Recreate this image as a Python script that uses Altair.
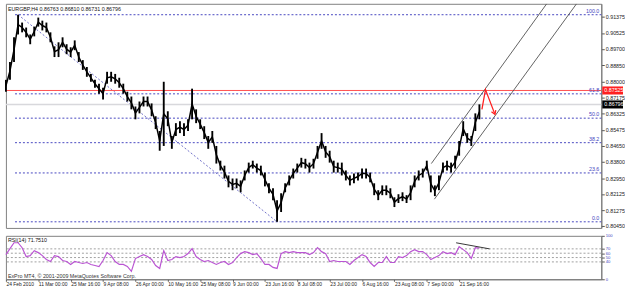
import altair as alt
import pandas as pd

# ---------------- data ----------------
header_text = "EURGBP,H4  0.86763 0.86810 0.86731 0.86796"
rsi_title = "RSI(14) 71.7510"
copyright_text = "ExPro MT4, \u00a9 2001-2009 MetaQuotes Software Corp."

bar_step = 8  # one column every 8 H4 bars

highs = [0.8808, 0.8901, 0.9030, 0.9148, 0.9107, 0.9081, 0.9045, 0.9086, 0.9133, 0.9117,
         0.9107, 0.9056, 0.8983, 0.9004, 0.9030, 0.8994, 0.8978, 0.9014, 0.8953, 0.8911,
         0.8875, 0.8839, 0.8808, 0.8788, 0.8767, 0.8850, 0.8850, 0.8839, 0.8819, 0.8788,
         0.8746, 0.8721, 0.8669, 0.8695, 0.8721, 0.8721, 0.8685, 0.8618, 0.8541, 0.8798,
         0.8644, 0.8515, 0.8582, 0.8592, 0.8582, 0.8602, 0.8762, 0.8654, 0.8602, 0.8566,
         0.8515, 0.8541, 0.8463, 0.8386, 0.8360, 0.8309, 0.8293, 0.8293, 0.8283, 0.8335,
         0.8376, 0.8386, 0.8371, 0.8360, 0.8324, 0.8268, 0.8242, 0.8180, 0.8216, 0.8268,
         0.8309, 0.8345, 0.8371, 0.8401, 0.8396, 0.8376, 0.8396, 0.8463, 0.8530, 0.8463,
         0.8438, 0.8386, 0.8376, 0.8376, 0.8335, 0.8309, 0.8319, 0.8324, 0.8345, 0.8345,
         0.8324, 0.8268, 0.8232, 0.8257, 0.8257, 0.8242, 0.8195, 0.8211, 0.8221, 0.8206,
         0.8257, 0.8309, 0.8335, 0.8345, 0.8386, 0.8309, 0.8257, 0.8309, 0.8376, 0.8386,
         0.8376, 0.8412, 0.8489, 0.8592, 0.8530, 0.8515, 0.8633, 0.8680]

lows = [0.8746, 0.8808, 0.8901, 0.9045, 0.9056, 0.9030, 0.8994, 0.9035, 0.9086, 0.9066,
        0.9056, 0.9004, 0.8927, 0.8927, 0.8978, 0.8942, 0.8927, 0.8963, 0.8901, 0.8860,
        0.8824, 0.8798, 0.8767, 0.8736, 0.8705, 0.8788, 0.8798, 0.8788, 0.8767, 0.8736,
        0.8695, 0.8654, 0.8602, 0.8633, 0.8669, 0.8669, 0.8618, 0.8551, 0.8438, 0.8463,
        0.8566, 0.8448, 0.8515, 0.8530, 0.8515, 0.8541, 0.8602, 0.8582, 0.8551, 0.8499,
        0.8448, 0.8479, 0.8371, 0.8335, 0.8293, 0.8247, 0.8232, 0.8242, 0.8221, 0.8283,
        0.8324, 0.8345, 0.8324, 0.8309, 0.8252, 0.8216, 0.8180, 0.8067, 0.8118, 0.8221,
        0.8257, 0.8293, 0.8324, 0.8350, 0.8345, 0.8324, 0.8345, 0.8396, 0.8448, 0.8401,
        0.8376, 0.8324, 0.8324, 0.8309, 0.8283, 0.8257, 0.8268, 0.8283, 0.8293, 0.8293,
        0.8273, 0.8206, 0.8180, 0.8206, 0.8206, 0.8190, 0.8144, 0.8165, 0.8175, 0.8165,
        0.8180, 0.8247, 0.8283, 0.8298, 0.8335, 0.8221, 0.8201, 0.8232, 0.8324, 0.8335,
        0.8324, 0.8345, 0.8412, 0.8515, 0.8479, 0.8463, 0.8541, 0.8602]

rsi_values = [56.8, 70.5, 84.1, 84.1, 72.7, 52.3, 54.5, 65.9, 61.4, 54.5,
              45.5, 40.9, 54.5, 52.3, 43.2, 40.9, 34.1, 40.9, 38.6, 36.4,
              38.6, 34.1, 31.8, 29.5, 43.2, 61.4, 54.5, 40.9, 34.1, 34.1,
              29.5, 18.2, 47.7, 52.3, 56.8, 52.3, 45.5, 31.8, 25.0, 65.9,
              43.2, 45.5, 52.3, 50.0, 52.3, 59.1, 70.5, 52.3, 45.5, 40.9,
              43.2, 38.6, 34.1, 38.6, 40.9, 34.1, 38.6, 50.0, 59.1, 63.6,
              61.4, 56.8, 59.1, 47.7, 34.1, 34.1, 27.3, 25.0, 59.1, 63.6,
              61.4, 63.6, 61.4, 61.4, 61.4, 56.8, 61.4, 72.7, 63.6, 59.1,
              40.9, 43.2, 40.9, 40.9, 40.9, 34.1, 43.2, 50.0, 56.8, 52.3,
              38.6, 29.5, 38.6, 38.6, 52.3, 38.6, 38.6, 52.3, 50.0, 54.5,
              63.6, 68.2, 63.6, 63.6, 56.8, 45.5, 50.0, 54.5, 63.6, 59.1,
              61.4, 56.8, 75.0, 68.2, 61.4, 47.7, 72.7, 71.75]

date_labels = ["24 Feb 2010", "11 Mar 00:00", "25 Mar 16:00", "9 Apr 08:00", "26 Apr 00:00",
               "10 May 16:00", "25 May 08:00", "9 Jun 00:00", "23 Jun 16:00", "8 Jul 08:00",
               "23 Jul 00:00", "6 Aug 16:00", "23 Aug 08:00", "7 Sep 00:00", "21 Sep 16:00"]
bars_per_label = 64

price_ticks = [0.91375, 0.90525, 0.89700, 0.88850, 0.88000, 0.87175, 0.86325,
               0.85475, 0.84650, 0.83800, 0.82950, 0.82125, 0.81275, 0.80450]

fib_names = ["100.0", "61.8", "50.0", "38.2", "23.6", "0.0"]
fib_prices = [0.9148, 0.8735, 0.8608, 0.8480, 0.8322, 0.8067]
fib_start_bar = 18

red_level = 0.87525
bid_price = 0.86796

fib_diag_bars = [24, 536]
fib_diag_prices = [0.9148, 0.8067]

channel_names = ["upper", "upper", "lower", "lower"]
channel_bars = [841, 1069, 847, 1128]
channel_prices = [0.8371, 0.9205, 0.8185, 0.9205]

arrow_bars = [941, 948, 966]
arrow_prices = [0.8654, 0.8757, 0.8633]

rsi_levels = [70, 60, 50, 40]
rsi_trend_bars = [890, 956]
rsi_trend_values = [84, 70]

X_MAX = 1177
W = 603
FONT = "Liberation Sans Narrow, Liberation Sans, Arial"
FS = 5.4
FS_DATE = 5.0

# ---------------- tables ----------------
bars = [i * bar_step for i in range(len(highs))]
price_df = pd.DataFrame({"bar": bars, "high": highs, "low": lows})
price_df["mid"] = (price_df["high"] + price_df["low"]) / 2
rsi_df = pd.DataFrame({"bar": bars, "rsi": rsi_values})
fib_df = pd.DataFrame({"level": fib_names, "price": fib_prices,
                       "x0": [fib_start_bar] * len(fib_names), "x1": [X_MAX] * len(fib_names)})
diag_df = pd.DataFrame({"bar": fib_diag_bars, "price": fib_diag_prices})
chan_df = pd.DataFrame({"name": channel_names, "bar": channel_bars, "price": channel_prices})
arrow_df = pd.DataFrame({"bar": arrow_bars, "price": arrow_prices, "o": list(range(len(arrow_bars)))})
tags_df = pd.DataFrame({"price": [red_level, bid_price],
                        "label": [f"{red_level:.5f}", f"{bid_price:.5f}"],
                        "bg": ["#FF2020", "#000000"]})
rlev_df = pd.DataFrame({"lvl": rsi_levels})
rtrend_df = pd.DataFrame({"bar": rsi_trend_bars, "rsi": rsi_trend_values})

xs = alt.Scale(domain=[0, X_MAX], nice=False, zero=False)
ys = alt.Scale(domain=[0.8035, 0.9205], nice=False, zero=False)
rys = alt.Scale(domain=[0, 100], nice=False, zero=False)

price_axis = alt.Axis(orient="right", values=price_ticks, format=".5f", title=None, grid=False,
                      labelFontSize=FS, labelFont=FONT, labelColor="#222222", tickSize=3,
                      tickColor="#555555", domainColor="#777777", labelPadding=1,
                      labelOverlap=False)

X = lambda f: alt.X(f, scale=xs, axis=None)
Y = lambda f: alt.Y(f, scale=ys, axis=price_axis)

cols = alt.Chart(price_df).mark_rule(color="black", strokeWidth=1.9).encode(
    x=X("bar:Q"), y=Y("low:Q"), y2="high:Q")
midline = alt.Chart(price_df).mark_line(color="black", strokeWidth=1.5).encode(
    x=X("bar:Q"), y=Y("mid:Q"))

fib_rule = alt.Chart(fib_df).mark_rule(color="#4646C0", strokeDash=[2, 2], strokeWidth=1).encode(
    x=X("x0:Q"), x2="x1:Q", y=Y("price:Q"))
fib_text = alt.Chart(fib_df).mark_text(align="right", baseline="bottom", dx=-2, dy=-1,
                                       fontSize=FS, font=FONT, color="#4646C0").encode(
    x=X("x1:Q"), y=Y("price:Q"), text="level:N")
diag = alt.Chart(diag_df).mark_line(color="#7070C8", strokeDash=[2, 2], strokeWidth=1).encode(
    x=X("bar:Q"), y=Y("price:Q"))
chan = alt.Chart(chan_df).mark_line(color="#505050", strokeWidth=0.9, clip=True).encode(
    x=X("bar:Q"), y=Y("price:Q"), detail="name:N")
red_rule = alt.Chart(tags_df.iloc[[0]]).mark_rule(color="#FF5050", strokeWidth=1).encode(y=Y("price:Q"))
bid_rule = alt.Chart(tags_df.iloc[[1]]).mark_rule(color="#D8D8DC", strokeWidth=1.5).encode(y=Y("price:Q"))
arrow = alt.Chart(arrow_df).mark_line(color="#FF2020", strokeWidth=1.3).encode(
    x=X("bar:Q"), y=Y("price:Q"), order="o:Q")
arrow_head = alt.Chart(arrow_df.iloc[[-1]]).mark_point(
    shape="M-0.6,-0.7L0,0.3L0.6,-0.7", filled=False, color="#FF2020", strokeWidth=1.3,
    size=60, angle=339, opacity=1).encode(x=X("bar:Q"), y=Y("price:Q"))
tag_box = alt.Chart(tags_df).mark_rect().encode(
    x=alt.value(W + 1), x2=alt.value(W + 22),
    y=Y("top:Q"), y2="bot:Q",
    color=alt.Color("bg:N", scale=None)).transform_calculate(
    top="datum.price + 0.0021", bot="datum.price - 0.0021")
tag_text = alt.Chart(tags_df).mark_text(align="left", baseline="middle", fontSize=FS, font=FONT,
                                        color="white").encode(
    x=alt.value(W + 3), y=Y("price:Q"), text="label:N")
header = alt.Chart(pd.DataFrame({"t": [header_text]})).mark_text(
    align="left", baseline="middle", fontSize=FS, font=FONT, color="#111111").encode(
    x=alt.value(2), y=alt.value(5), text="t:N")

main = alt.layer(fib_rule, diag, red_rule, bid_rule, cols, midline, chan, arrow, arrow_head,
                 fib_text, tag_box, tag_text, header).properties(width=W, height=227)

label_js = "[" + ",".join("'" + s + "'" for s in date_labels) + "]"
x_axis = alt.Axis(values=[i * bars_per_label for i in range(len(date_labels))],
                  labelExpr=label_js + "[round(datum.value/" + str(bars_per_label) + ")]",
                  labelAlign="left", labelBaseline="top", labelFontSize=FS_DATE, labelFont=FONT,
                  labelColor="#222222", tickSize=2, tickColor="#555555", domainColor="#777777",
                  labelPadding=0, grid=False, title=None, labelOverlap=False, labelFlush=False)
rsi_axis = alt.Axis(orient="right", values=[0] + rsi_levels + [100], title=None, grid=False,
                    labelFontSize=4.2, labelFont=FONT, labelColor="#4646C0", tickSize=3,
                    tickColor="#555555", domainColor="#777777", labelPadding=1,
                    labelOverlap=False)

RX = lambda f: alt.X(f, scale=xs, axis=x_axis)
RY = lambda f: alt.Y(f, scale=rys, axis=rsi_axis)

rlev = alt.Chart(rlev_df).mark_rule(color="#A0A0A0", strokeDash=[2, 2], strokeWidth=1).encode(
    y=RY("lvl:Q"))
rline = alt.Chart(rsi_df).mark_line(color="#BA55D3", strokeWidth=1.2).encode(
    x=RX("bar:Q"), y=RY("rsi:Q"))
rtrend = alt.Chart(rtrend_df).mark_line(color="#202020", strokeWidth=0.9).encode(
    x=RX("bar:Q"), y=RY("rsi:Q"))
rtitle = alt.Chart(pd.DataFrame({"t": [rsi_title]})).mark_text(
    align="left", baseline="middle", fontSize=FS, font=FONT, color="#111111").encode(
    x=alt.value(2), y=alt.value(4), text="t:N")
rcopy = alt.Chart(pd.DataFrame({"t": [copyright_text]})).mark_text(
    align="left", baseline="middle", fontSize=FS, font=FONT, color="#333333").encode(
    x=alt.value(2), y=alt.value(41), text="t:N")

rsi_chart = alt.layer(rlev, rline, rtrend, rtitle, rcopy).properties(width=W, height=44)

chart = alt.vconcat(main, rsi_chart, spacing=3).properties(
    padding={"left": 2, "top": 1, "right": 0, "bottom": 0}, background="white"
).configure_view(stroke="#808080", strokeWidth=1)

chart.save("out.html", embed_options={"renderer": "svg", "actions": False})
